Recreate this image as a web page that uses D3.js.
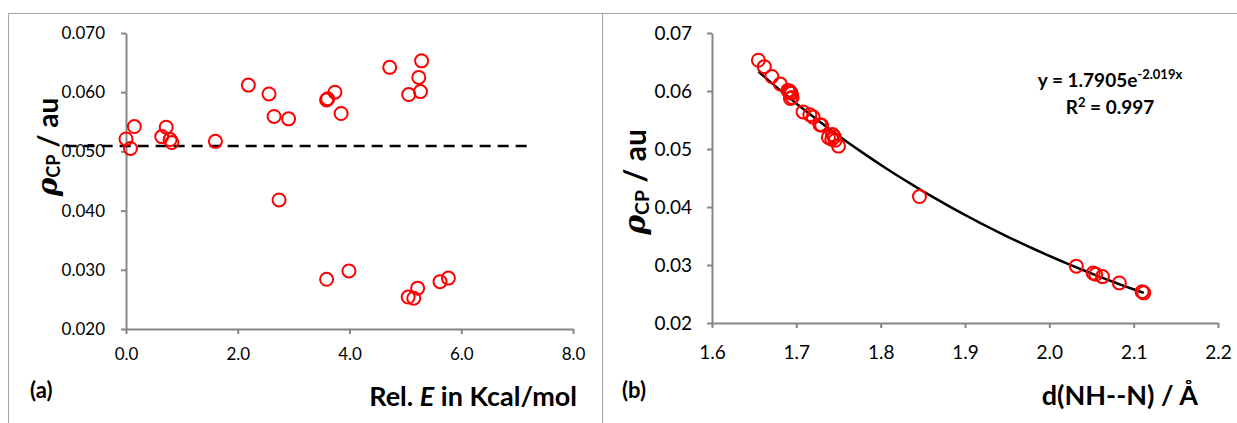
<!DOCTYPE html>
<html>
<head>
<meta charset="utf-8">
<script src="https://cdn.jsdelivr.net/npm/d3@7"></script>
<style>
    html, body { margin: 0; padding: 0; background: #fff; }
    svg { display: block; font-family: Lato, "Open Sans", sans-serif; }
    .axis path, .axis line { stroke: #868686; stroke-width: 2; }
    .axis text { fill: #000; }
</style>
</head>
<body>
<svg id="chart" width="1237" height="423"></svg>
<script>
// Data: one entry per conformer, same order in every array
const rhoCP = [0.0653, 0.0642, 0.0625, 0.0612, 0.0601, 0.0600, 0.0597, 0.0596, 0.0589, 0.0587,
               0.0564, 0.0559, 0.0555, 0.0542, 0.0541, 0.0525, 0.0521, 0.0520, 0.0517, 0.0515,
               0.0505, 0.0418, 0.0298, 0.0286, 0.0284, 0.0280, 0.0269, 0.0254, 0.0252];
const relE = [5.29, 4.72, 5.24, 2.19, 5.27, 3.74, 2.56, 5.06, 3.61, 3.59,
              3.85, 2.65, 2.91, 0.15, 0.72, 0.64, 0.00, 0.79, 1.60, 0.82,
              0.08, 2.74, 3.99, 5.77, 3.59, 5.62, 5.22, 5.05, 5.15];
const dNHN = [1.655, 1.662, 1.671, 1.681, 1.690, 1.692, 1.693, 1.694, 1.695, 1.693,
              1.708, 1.716, 1.720, 1.728, 1.730, 1.743, 1.745, 1.738, 1.742, 1.746,
              1.750, 1.846, 2.032, 2.052, 2.055, 2.063, 2.083, 2.110, 2.112];

// Dashed reference level in panel (a)
const refLevelRho = 0.0509;
const refLevelE = [-1.08, 7.23];

// Exponential trend line in panel (b): y = a * exp(b * x)
const fitCoef = [1.7905, -2.019];
const fitLabel = ['y = 1.7905e', '-2.019x'];
const fitR2 = '0.997';

// Ticks
const ticksE = [0, 2, 4, 6, 8];
const ticksD = [1.6, 1.7, 1.8, 1.9, 2.0, 2.1, 2.2];
const ticksRho = [0.02, 0.03, 0.04, 0.05, 0.06, 0.07];

const svg = d3.select('#chart');
const red = '#ff0000';

/**
 * Panel frames (light gray lines round the two figures)
 */
function drawFrames() {
    const frame = svg.append('g').attr('stroke', '#a6a6a6').attr('stroke-width', 1);
    frame.append('line').attr('x1', 8).attr('x2', 1237).attr('y1', 13.5).attr('y2', 13.5);
    frame.append('line').attr('x1', 8.5).attr('x2', 8.5).attr('y1', 13).attr('y2', 423);
    frame.append('line').attr('x1', 602.5).attr('x2', 602.5).attr('y1', 13).attr('y2', 423);
}

/**
 * Rotated y title: rho_CP / au
 */
function yTitle(cx, cy, size) {
    const t = svg.append('text')
        .attr('transform', `translate(${cx},${cy}) rotate(-90)`)
        .attr('text-anchor', 'middle')
        .attr('dominant-baseline', 'central')
        .style('font-size', size + 'px')
        .style('font-weight', 'bold');
    t.append('tspan').style('font-style', 'italic').style('font-family', '"DejaVu Serif", serif').text('ρ');
    t.append('tspan').attr('dy', size * 0.22).style('font-size', (size * 0.65) + 'px').text('CP');
    t.append('tspan').attr('dy', -size * 0.22).text(' / au');
}

/**
 * Panel (a): rho_CP against relative energy
 */
function drawPanelA() {
    const x = d3.scaleLinear().domain([0, 8]).range([126, 573]);
    const y = d3.scaleLinear().domain([0.02, 0.07]).range([329, 33]);

    svg.append('g').attr('class', 'axis')
        .attr('transform', `translate(0,${y(0.02)})`)
        .call(d3.axisBottom(x).tickValues(ticksE).tickFormat(d3.format('.1f'))
            .tickSize(5).tickSizeOuter(0).tickPadding(14))
        .selectAll('text').style('font-size', '17px').style('font-family', 'Lato');

    svg.append('g').attr('class', 'axis')
        .attr('transform', `translate(${x(0)},0)`)
        .call(d3.axisLeft(y).tickValues(ticksRho).tickFormat(d3.format('.3f'))
            .tickSize(5).tickSizeOuter(0).tickPadding(16))
        .selectAll('text').style('font-size', '17px').style('font-family', 'Lato');

    // dashed reference level
    svg.append('line')
        .attr('x1', x(refLevelE[0])).attr('x2', x(refLevelE[1]))
        .attr('y1', y(refLevelRho)).attr('y2', y(refLevelRho))
        .attr('stroke', '#000').attr('stroke-width', 2.5)
        .attr('stroke-dasharray', '11,7');

    svg.append('g').selectAll('circle')
        .data(d3.range(rhoCP.length))
        .join('circle')
        .attr('cx', i => x(relE[i]))
        .attr('cy', i => y(rhoCP[i]))
        .attr('r', 6.5)
        .attr('fill', 'none')
        .attr('stroke', red)
        .attr('stroke-width', 2);

    yTitle(47, 147, 28);

    svg.append('text').attr('x', 30).attr('y', 398)
        .style('font-size', '22px').style('font-weight', 'bold').text('(a)');

    const title = svg.append('text').attr('x', x(8) + 4).attr('y', 406)
        .attr('text-anchor', 'end')
        .style('font-size', '27px').style('font-weight', 'bold');
    title.append('tspan').text('Rel. ');
    title.append('tspan').style('font-style', 'italic').text('E');
    title.append('tspan').text(' in Kcal/mol');
}

/**
 * Panel (b): rho_CP against NH--N distance, with exponential fit
 */
function drawPanelB() {
    const x = d3.scaleLinear().domain([1.6, 2.2]).range([712, 1218]);
    const y = d3.scaleLinear().domain([0.02, 0.07]).range([323, 33]);

    svg.append('g').attr('class', 'axis')
        .attr('transform', `translate(0,${y(0.02)})`)
        .call(d3.axisBottom(x).tickValues(ticksD).tickFormat(d3.format('.1f'))
            .tickSize(5).tickSizeOuter(0).tickPadding(18))
        .selectAll('text').style('font-size', '19px').style('font-family', 'Lato');

    svg.append('g').attr('class', 'axis')
        .attr('transform', `translate(${x(1.6)},0)`)
        .call(d3.axisLeft(y).tickValues(ticksRho).tickFormat(d3.format('.2f'))
            .tickSize(5).tickSizeOuter(0).tickPadding(15))
        .selectAll('text').style('font-size', '19px').style('font-family', 'Lato');

    // trend line over the span of the data
    const [lo, hi] = d3.extent(dNHN);
    const fitPts = d3.range(0, 41).map(k => {
        const xv = lo + (hi - lo) * k / 40;
        return [xv, fitCoef[0] * Math.exp(fitCoef[1] * xv)];
    });
    svg.append('path')
        .datum(fitPts)
        .attr('fill', 'none')
        .attr('stroke', '#000')
        .attr('stroke-width', 2.5)
        .attr('d', d3.line().x(d => x(d[0])).y(d => y(d[1])));

    svg.append('g').selectAll('circle')
        .data(d3.range(rhoCP.length))
        .join('circle')
        .attr('cx', i => x(dNHN[i]))
        .attr('cy', i => y(rhoCP[i]))
        .attr('r', 6.5)
        .attr('fill', 'none')
        .attr('stroke', red)
        .attr('stroke-width', 2);

    // fit equation
    const eq = svg.append('text').attr('x', 1110).attr('y', 87)
        .attr('text-anchor', 'middle')
        .style('font-size', '19px').style('font-weight', 'bold');
    eq.append('tspan').text(fitLabel[0]);
    eq.append('tspan').attr('dy', -8).style('font-size', '13px').text(fitLabel[1]);

    const r2 = svg.append('text').attr('x', 1110).attr('y', 114)
        .attr('text-anchor', 'middle')
        .style('font-size', '19px').style('font-weight', 'bold');
    r2.append('tspan').text('R');
    r2.append('tspan').attr('dy', -7).style('font-size', '13px').text('2');
    r2.append('tspan').attr('dy', 7).text(' = ' + fitR2);

    yTitle(634, 182, 30);

    svg.append('text').attr('x', 622).attr('y', 398)
        .style('font-size', '22px').style('font-weight', 'bold').text('(b)');

    svg.append('text').attr('x', 1198).attr('y', 405)
        .attr('text-anchor', 'end')
        .style('font-size', '27px').style('font-weight', 'bold')
        .text('d(NH--N) / Å');
}

drawFrames();
drawPanelA();
drawPanelB();
</script>
</body>
</html>
